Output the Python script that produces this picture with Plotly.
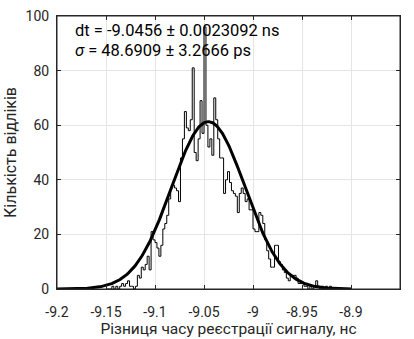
import numpy as np
import plotly.graph_objects as go

# Histogram: bin left edges (ns) and counts
bin_start = -9.150
bin_width = 0.002
counts = [
    0, 0, 0, 1, 0,
    1, 0, 1, 2, 1,
    2, 3, 1, 1, 0,
    1, 5, 4, 8, 7,
    9, 12, 7, 21, 18,
    17, 15, 12, 16, 22,
    24, 27, 33, 37, 38,
    37, 36, 32, 48, 55,
    65, 59, 58, 62, 81,
    50, 47, 55, 69, 57,
    96, 60, 52, 55, 49,
    70, 62, 55, 48, 48,
    35, 40, 43, 39, 36,
    35, 34, 28, 35, 37,
    35, 32, 33, 29, 29,
    22, 21, 21, 28, 27,
    24, 18, 14, 11, 8,
    8, 16, 16, 10, 9,
    7, 6, 4, 3, 5,
    5, 5, 4, 2, 2,
    2, 1, 1, 0, 1,
    0, 1, 3, 1, 0,
    1, 0, 1, 0, 1,
    0, 0, 0, 0, 0,
]

# Gaussian fit parameters (as drawn)
fit_amp = 61.3
fit_mean = -9.0456
fit_sigma = 0.0376
fit_range = [-9.2, -8.9]

x_ticks = [-9.2, -9.15, -9.1, -9.05, -9.0, -8.95, -8.9, -8.85]
x_ticktext = ["-9.2", "-9.15", "-9.1", "-9.05", "-9", "-8.95", "-8.9", "-8.85"]
y_ticks = [0, 20, 40, 60, 80, 100]

edges = [bin_start + i * bin_width for i in range(len(counts) + 1)]
hx = edges
hy = counts + [counts[-1]]

fx = np.linspace(fit_range[0], fit_range[1], 400)
fy = fit_amp * np.exp(-0.5 * ((fx - fit_mean) / fit_sigma) ** 2)

fig = go.Figure()
fig.add_trace(go.Scatter(x=hx, y=hy, mode="lines", line=dict(shape="hv", color="black", width=1),
                         hoverinfo="skip", showlegend=False))
fig.add_trace(go.Scatter(x=fx, y=fy, mode="lines", line=dict(color="black", width=3),
                         showlegend=False))

axis_col = "#262626"
fig.update_xaxes(range=[-9.2, -8.85], tickvals=x_ticks, ticktext=x_ticktext,
                 showgrid=True, gridcolor="#e5e5e5", gridwidth=1,
                 showline=True, linecolor=axis_col, linewidth=1, mirror="ticks",
                 ticks="inside", ticklen=4, tickcolor=axis_col, ticklabelstandoff=10,
                 tickfont=dict(family="Roboto", size=14, color=axis_col),
                 title=dict(text="Різниця часу реєстрації сигналу, нс",
                            font=dict(family="Roboto", size=15.5, color=axis_col), standoff=2),
                 zeroline=False, automargin=False)
fig.update_yaxes(range=[0, 100], tickvals=y_ticks,
                 showgrid=True, gridcolor="#e5e5e5", gridwidth=1,
                 showline=True, linecolor=axis_col, linewidth=1, mirror="ticks",
                 ticks="inside", ticklen=4, tickcolor=axis_col, ticklabelstandoff=4,
                 ticklabeloverflow="allow",
                 tickfont=dict(family="Roboto", size=14, color=axis_col),
                 title=dict(text="Кількість відліків",
                            font=dict(family="Roboto", size=16, color=axis_col), standoff=4),
                 zeroline=False)

fig.add_shape(type="rect", xref="paper", yref="paper", x0=0, x1=1, y0=0, y1=1,
              line=dict(color=axis_col, width=1), layer="above")

fig.add_annotation(xref="paper", yref="paper", x=0.047, y=0.947, xanchor="left", yanchor="middle",
                   text="dt = -9.0456 ± 0.0023092 ns", showarrow=False,
                   font=dict(family="Roboto", size=16.5, color="black"))
fig.add_annotation(xref="paper", yref="paper", x=0.047, y=0.875, xanchor="left", yanchor="middle",
                   text="<i>σ</i> = 48.6909 ± 3.2666 ps", showarrow=False,
                   font=dict(family="Roboto", size=16.5, color="black"))

fig.update_layout(width=414, height=339, margin=dict(l=57, r=14, t=8, b=50),
                  plot_bgcolor="white", paper_bgcolor="white")

fig.write_html("out.html")
